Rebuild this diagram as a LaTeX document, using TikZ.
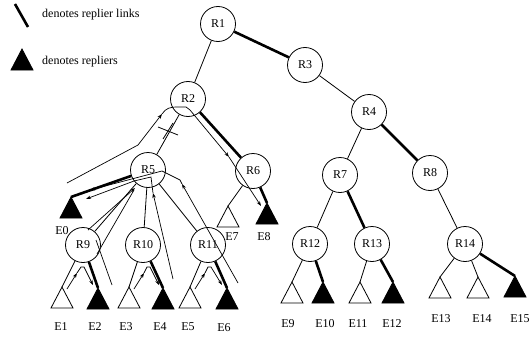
\documentclass[tikz,border=0pt]{standalone}
\usepackage{fontspec}
\setmainfont{Liberation Serif}
\usetikzlibrary{arrows.meta}
\tikzset{
  rnode/.style={circle, draw, line width=0.8pt, minimum size=35pt, inner sep=0pt, font=\fontsize{12}{14}\selectfont},
  lbl/.style={inner sep=0pt, font=\fontsize{12}{14}\selectfont},
  thn/.style={line width=0.8pt},
  thk/.style={line width=2.6pt},
  msg/.style={line width=0.7pt},
  arr/.style={-{Stealth[length=5pt,width=3.5pt]}},
  tri/.style={line width=0.8pt, line join=miter},
}
\newcommand\mytriO[1]{\draw[tri] (#1) -- ++(-11,21) -- ++(22,0) -- cycle;}
\newcommand\mytriF[1]{\draw[tri, fill=black] (#1) -- ++(-11,21) -- ++(22,0) -- cycle;}
\begin{document}
\begin{tikzpicture}[x=1pt,y=-1pt]
\useasboundingbox (0,0) rectangle (532,337);
% legend
\coordinate (L1a) at (15,4);
\coordinate (L1b) at (28,27);
\draw[thk] (L1a) -- (L1b);
\node[lbl, anchor=west] (legA) at (42,15) {denotes replier links};
\coordinate (L2) at (22,49);
\mytriF{L2}
\node[lbl, anchor=west] (legB) at (42,62) {denotes repliers};
% router nodes
\node[rnode] (R1) at (218,24) {R1};
\node[rnode] (R2) at (188,99) {R2};
\node[rnode] (R3) at (305,65) {R3};
\node[rnode] (R4) at (369,112) {R4};
\node[rnode] (R5) at (148,170) {R5};
\node[rnode] (R6) at (253,171) {R6};
\node[rnode] (R7) at (340,175) {R7};
\node[rnode] (R8) at (430,173) {R8};
\node[rnode] (R9) at (83,245) {R9};
\node[rnode] (R10) at (143,245) {R10};
\node[rnode] (R11) at (208,245) {R11};
\node[rnode] (R12) at (310,244) {R12};
\node[rnode] (R13) at (372,244) {R13};
\node[rnode] (R14) at (465,244) {R14};
% end hosts (triangle apexes)
\coordinate (E0) at (71,197);
\coordinate (E1) at (62,287);
\coordinate (E2) at (98,288);
\coordinate (E3) at (129,287);
\coordinate (E4) at (163,288);
\coordinate (E5) at (190,287);
\coordinate (E6) at (227,288);
\coordinate (E7) at (228,206);
\coordinate (E8) at (267,203);
\coordinate (E9) at (292,282);
\coordinate (E10) at (323,282);
\coordinate (E11) at (360,282);
\coordinate (E12) at (393,282);
\coordinate (E13) at (440,277);
\coordinate (E14) at (478,277);
\coordinate (E15) at (515,276);
\mytriF{E0}
\mytriO{E1} \mytriF{E2}
\mytriO{E3} \mytriF{E4}
\mytriO{E5} \mytriF{E6}
\mytriO{E7} \mytriF{E8}
\mytriO{E9} \mytriF{E10}
\mytriO{E11} \mytriF{E12}
\mytriO{E13} \mytriO{E14} \mytriF{E15}
% labels
\node[lbl] (lE0) at (62,231) {E0};
\node[lbl] (lE1) at (61,327) {E1};
\node[lbl] (lE2) at (95,327) {E2};
\node[lbl] (lE3) at (126,327) {E3};
\node[lbl] (lE4) at (160,327) {E4};
\node[lbl] (lE5) at (188,327) {E5};
\node[lbl] (lE6) at (224,328) {E6};
\node[lbl] (lE7) at (232,237) {E7};
\node[lbl] (lE8) at (264,237) {E8};
\node[lbl] (lE9) at (288,324) {E9};
\node[lbl] (lE10) at (325,324) {E10};
\node[lbl] (lE11) at (358,324) {E11};
\node[lbl] (lE12) at (392,324) {E12};
\node[lbl] (lE13) at (441,319) {E13};
\node[lbl] (lE14) at (482,319) {E14};
\node[lbl] (lE15) at (520,319) {E15};
% tree edges
\draw[thn] (R1) -- (R2);
\draw[thk] (R1) -- (R3);
\draw[thn] (R3) -- (R4);
\draw[thn] (R2) -- (R5);
\draw[thk] (R2) -- (R6);
\draw[thn] (R4) -- (R7);
\draw[thk] (R4) -- (R8);
\draw[thk] (R5) -- (E0);
\draw[thn] (R5) -- (R9);
\draw[thn] (R5) -- (R10);
\draw[thn] (R5) -- (R11);
\draw[thn] (R6) -- (E7);
\draw[thk] (R6) -- (E8);
\draw[thn] (R7) -- (R12);
\draw[thk] (R7) -- (R13);
\draw[thn] (R8) -- (R14);
\draw[thn] (R9) -- (E1);
\draw[thk] (R9) -- (E2);
\draw[thn] (R10) -- (E3);
\draw[thk] (R10) -- (E4);
\draw[thn] (R11) -- (E5);
\draw[thk] (R11) -- (E6);
\draw[thn] (R12) -- (E9);
\draw[thk] (R12) -- (E10);
\draw[thn] (R13) -- (E11);
\draw[thk] (R13) -- (E12);
\draw[thn] (R14) -- (E13);
\draw[thn] (R14) -- (E14);
\draw[thk] (R14) -- (E15);
% cut mark on R2-R5
\draw[thn] (158,127) -- (178,135);
\draw[thn] (163,139) -- (173,123);
% message paths
\draw[msg, arr] (67,183) -- (138,145) -- (162,114);
\draw[msg, arr] (162,114) .. controls (166,108) and (170,107) .. (178,107) -- (186,107) -- (190,110) -- (229,157);
\draw[msg, arr] (229,157) -- (261,206);
% R9 side
\draw[msg, arr] (88,230) -- (135,188);
\draw[msg] (134,190) -- (97,254);
\draw[msg] (112,285) -- (96,240);
% R10 side
\draw[msg, arr] (173,279) -- (153,193);
\draw[msg, arr] (153,193) -- (151,177) -- (134,181) -- (86,199);
% R11 side
\draw[msg, arr] (238,283) -- (182,184);
\draw[msg, arr] (182,184) -- (180,180) -- (162,171) -- (90,190);
% inner request/repair paths
\draw[msg, arr] (67,289) -- (77,273);
\draw[msg, arr] (77,273) -- (81,267) -- (84,267) -- (93,285);
\draw[msg, arr] (134,289) -- (144,273);
\draw[msg, arr] (144,273) -- (147,267) -- (150,267) -- (159,285);
\draw[msg, arr] (195,289) -- (205,273);
\draw[msg, arr] (205,273) -- (208,267) -- (211,267) -- (222,285);
\end{tikzpicture}
\end{document}
